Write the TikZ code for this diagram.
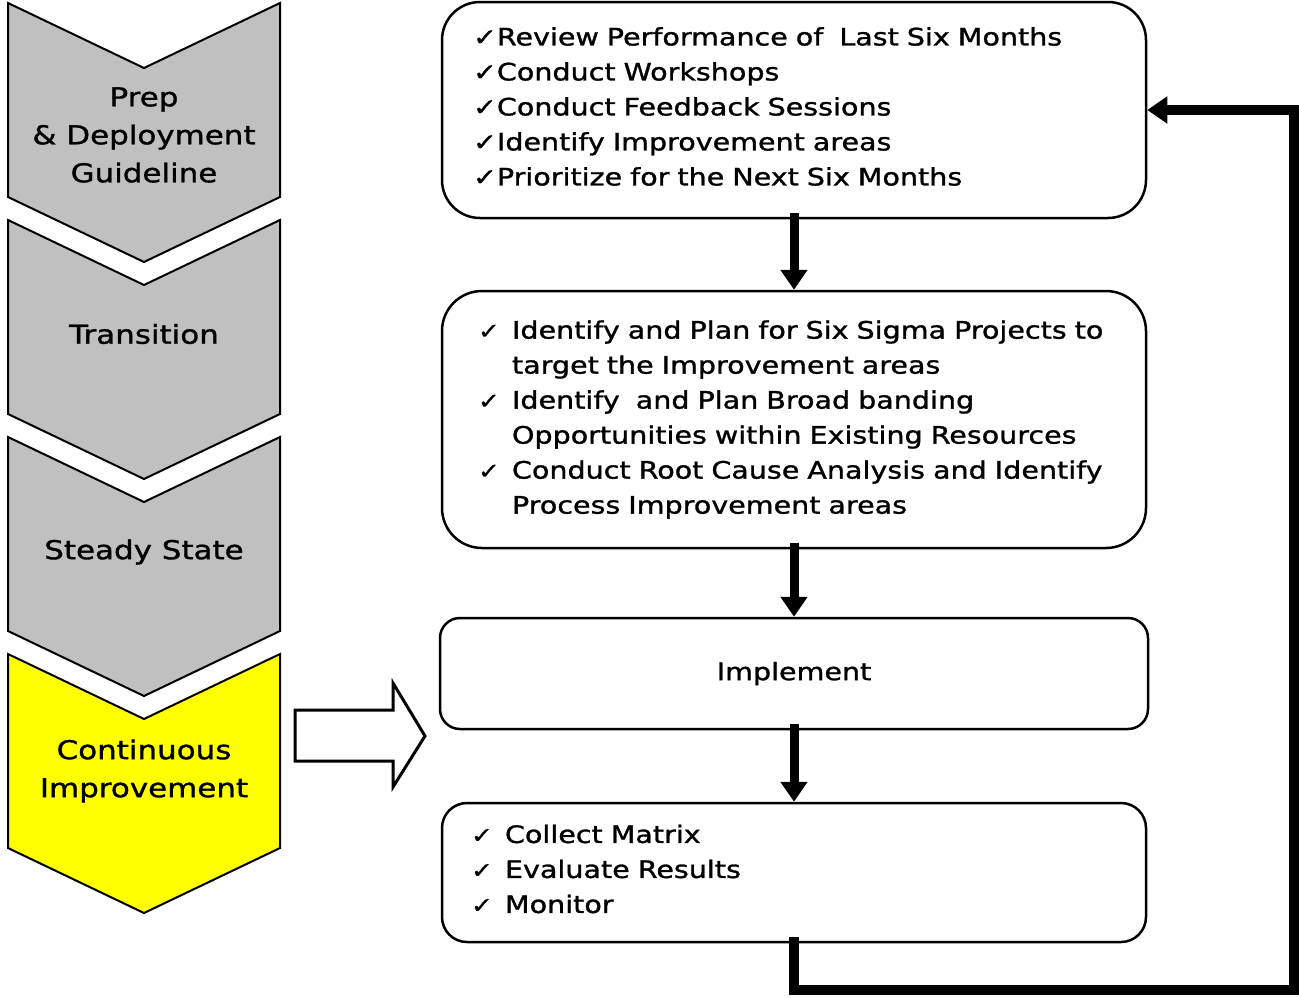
\documentclass[tikz,border=0pt]{standalone}
\usepackage{fontspec}
\setmainfont{DejaVu Sans}[FakeStretch=1.19, FakeBold=1.2]
\usetikzlibrary{arrows.meta}
\definecolor{phasegray}{RGB}{192,192,192}
\definecolor{phaseyellow}{RGB}{255,255,0}
\newcommand{\tick}{✓}
\newcommand{\titem}{\makebox[34pt][l]{\fontsize{22}{22}\selectfont✓}}
\newcommand{\tcont}{\hspace*{34pt}}
\begin{document}
\begin{tikzpicture}[x=1pt,y=-1pt,
  chev/.style={draw=black, line width=2pt, line join=miter},
  phase/.style={font=\fontsize{26}{38}\selectfont, align=center, inner sep=0pt},
  stepbox/.style={draw=black, line width=2.5pt, rounded corners=#1, inner sep=0pt,
    minimum width=704pt},
  body/.style={font=\fontsize{24}{35}\selectfont, align=left, inner sep=0pt},
  flow/.style={line width=9pt, -{Triangle[length=20pt,width=26pt]}},
  loopline/.style={line width=9.5pt, line join=miter, -{Triangle[length=20pt,width=26pt]}},
  hollow/.style={draw=black, fill=white, line width=3pt, line join=miter}]
\useasboundingbox (0,0) rectangle (1299,997);

% phase chevrons
\foreach \t/\c in {3/phasegray, 220/phasegray, 437/phasegray, 654/phaseyellow}
  \filldraw[chev, fill=\c] (8,\t) -- (144,\t+65) -- (280,\t) -- (280,\t+194)
    -- (144,\t+259) -- (8,\t+194) -- cycle;

\node[phase] (prep) at (144,135) {Prep\\\& Deployment\\Guideline};
\node[phase] (trans) at (144,334) {Transition};
\node[phase] (steady) at (144,552) {Steady State};
\node[phase] (cont) at (144,771) {Continuous\\Improvement};

% hollow arrow pointing at the cycle
\draw[hollow] (295,710) -- (393,710) -- (393,683) -- (425,736) -- (393,787)
  -- (393,761) -- (295,761) -- cycle;

% improvement cycle: boxes
\node[stepbox=38pt, minimum height=216pt] (b1) at (794,110) {};
\node[stepbox=40pt, minimum height=257pt] (b2) at (794,419.5) {};
\node[stepbox=20pt, minimum width=708pt, minimum height=111pt] (b3) at (794,673.5) {};
\node[stepbox=25pt, minimum height=139pt] (b4) at (794,872.5) {};

% box contents
\node[body, text width=642pt] (b1t) at ([yshift=3.5pt]b1.center)
  {\tick Review Performance of\ \ Last Six Months\\
   \tick Conduct Workshops\\
   \tick Conduct Feedback Sessions\\
   \tick Identify Improvement areas\\
   \tick Prioritize for the Next Six Months};

\node[body, text width=632pt] (b2t) at (b2.center)
  {\titem Identify and Plan for Six Sigma Projects to\\
   \tcont target the Improvement areas\\
   \titem Identify\ \ and Plan Broad banding\\
   \tcont Opportunities within Existing Resources\\
   \titem Conduct Root Cause Analysis and Identify\\
   \tcont Process Improvement areas};

\node[body, align=center] (b3t) at (b3.center) {Implement};

\node[body, text width=646pt] (b4t) at ([yshift=3.5pt]b4.center)
  {\titem Collect Matrix\\
   \titem Evaluate Results\\
   \titem Monitor};

% connectors and feedback loop
\coordinate (lbot) at (794,990);
\coordinate (rtop) at (1294,110);

\draw[flow] ([yshift=6pt]b1.south) -- (b2.north);
\draw[flow] ([yshift=6pt]b2.south) -- (b3.north);
\draw[flow] ([yshift=6pt]b3.south) -- (b4.north);
\draw[loopline] ([yshift=6pt]b4.south) -- (lbot) -| (rtop) -- (b1.east);
\end{tikzpicture}
\end{document}
